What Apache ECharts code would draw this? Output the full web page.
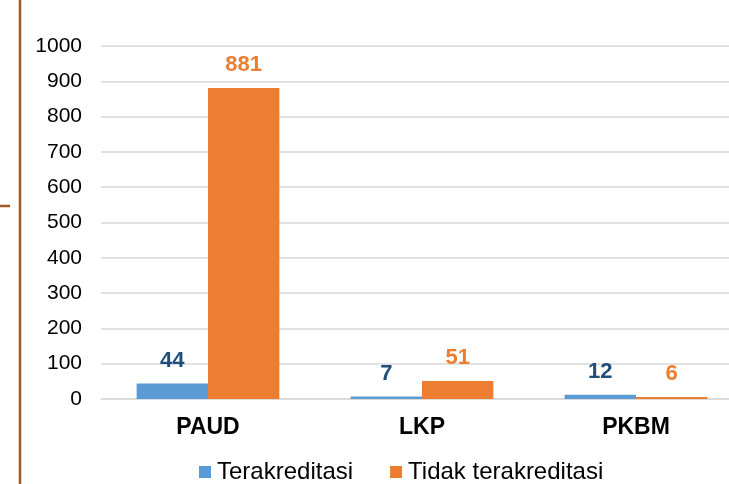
<!DOCTYPE html>
<html>
<head>
<meta charset="utf-8">
<script src="https://cdn.jsdelivr.net/npm/echarts@6/dist/echarts.min.js"></script>
<style>
html,body{margin:0;padding:0;background:#fff;overflow:hidden;}
#c{width:760px;height:484px;}
</style>
</head>
<body>
<div id="c"></div>
<script>
const categories = ['PAUD', 'LKP', 'PKBM'];
const terakreditasi = [44, 7, 12];
const tidakTerakreditasi = [881, 51, 6];
const seriesNames = ['Terakreditasi', 'Tidak terakreditasi'];
const yTicks = { min: 0, max: 1000, interval: 100 };

const font = '"Liberation Sans", Arial, sans-serif';
const chart = echarts.init(document.getElementById('c'), null, { renderer: 'canvas' });
chart.setOption({
  animation: false,
  backgroundColor: '#ffffff',
  grid: { left: 101, top: 46, width: 642, height: 353, containLabel: false },
  legend: {
    data: seriesNames,
    left: 199,
    top: 460,
    padding: 0,
    itemWidth: 12,
    itemHeight: 12,
    itemGap: 37,
    icon: 'rect',
    textStyle: { fontFamily: font, fontSize: 24, color: '#000', padding: [0, 0, 0, 1] }
  },
  xAxis: {
    type: 'category',
    data: categories,
    axisLine: { show: true, lineStyle: { color: '#d9d9d9', width: 1.5 } },
    axisTick: { show: false },
    axisLabel: { fontFamily: font, fontSize: 23, fontWeight: 'bold', color: '#000', margin: 17 }
  },
  yAxis: {
    type: 'value',
    min: yTicks.min,
    max: yTicks.max,
    interval: yTicks.interval,
    axisLine: { show: false },
    axisTick: { show: false },
    splitLine: { lineStyle: { color: '#d9d9d9', width: 1.5 } },
    axisLabel: { fontFamily: font, fontSize: 21, color: '#000', margin: 19, formatter: v => String(v) }
  },
  series: [
    {
      name: seriesNames[0],
      type: 'bar',
      data: terakreditasi,
      barGap: '0%',
      barCategoryGap: '33.3%',
      itemStyle: { color: '#5B9BD5' },
      label: { show: true, position: 'top', distance: 12, fontFamily: font, fontSize: 22, fontWeight: 'bold', color: '#1F4E79' }
    },
    {
      name: seriesNames[1],
      type: 'bar',
      data: tidakTerakreditasi,
      barGap: '0%',
      barCategoryGap: '33.3%',
      itemStyle: { color: '#ED7D31' },
      label: { show: true, position: 'top', distance: 12, fontFamily: font, fontSize: 22, fontWeight: 'bold', color: '#ED7D31' }
    }
  ],
  graphic: [
    { type: 'line', shape: { x1: 20, y1: 0, x2: 20, y2: 484 }, style: { stroke: '#9E5A26', lineWidth: 2.5 } },
    { type: 'line', shape: { x1: 0, y1: 206, x2: 10, y2: 206 }, style: { stroke: '#9E5A26', lineWidth: 2.5 } }
  ]
});
</script>
</body>
</html>
